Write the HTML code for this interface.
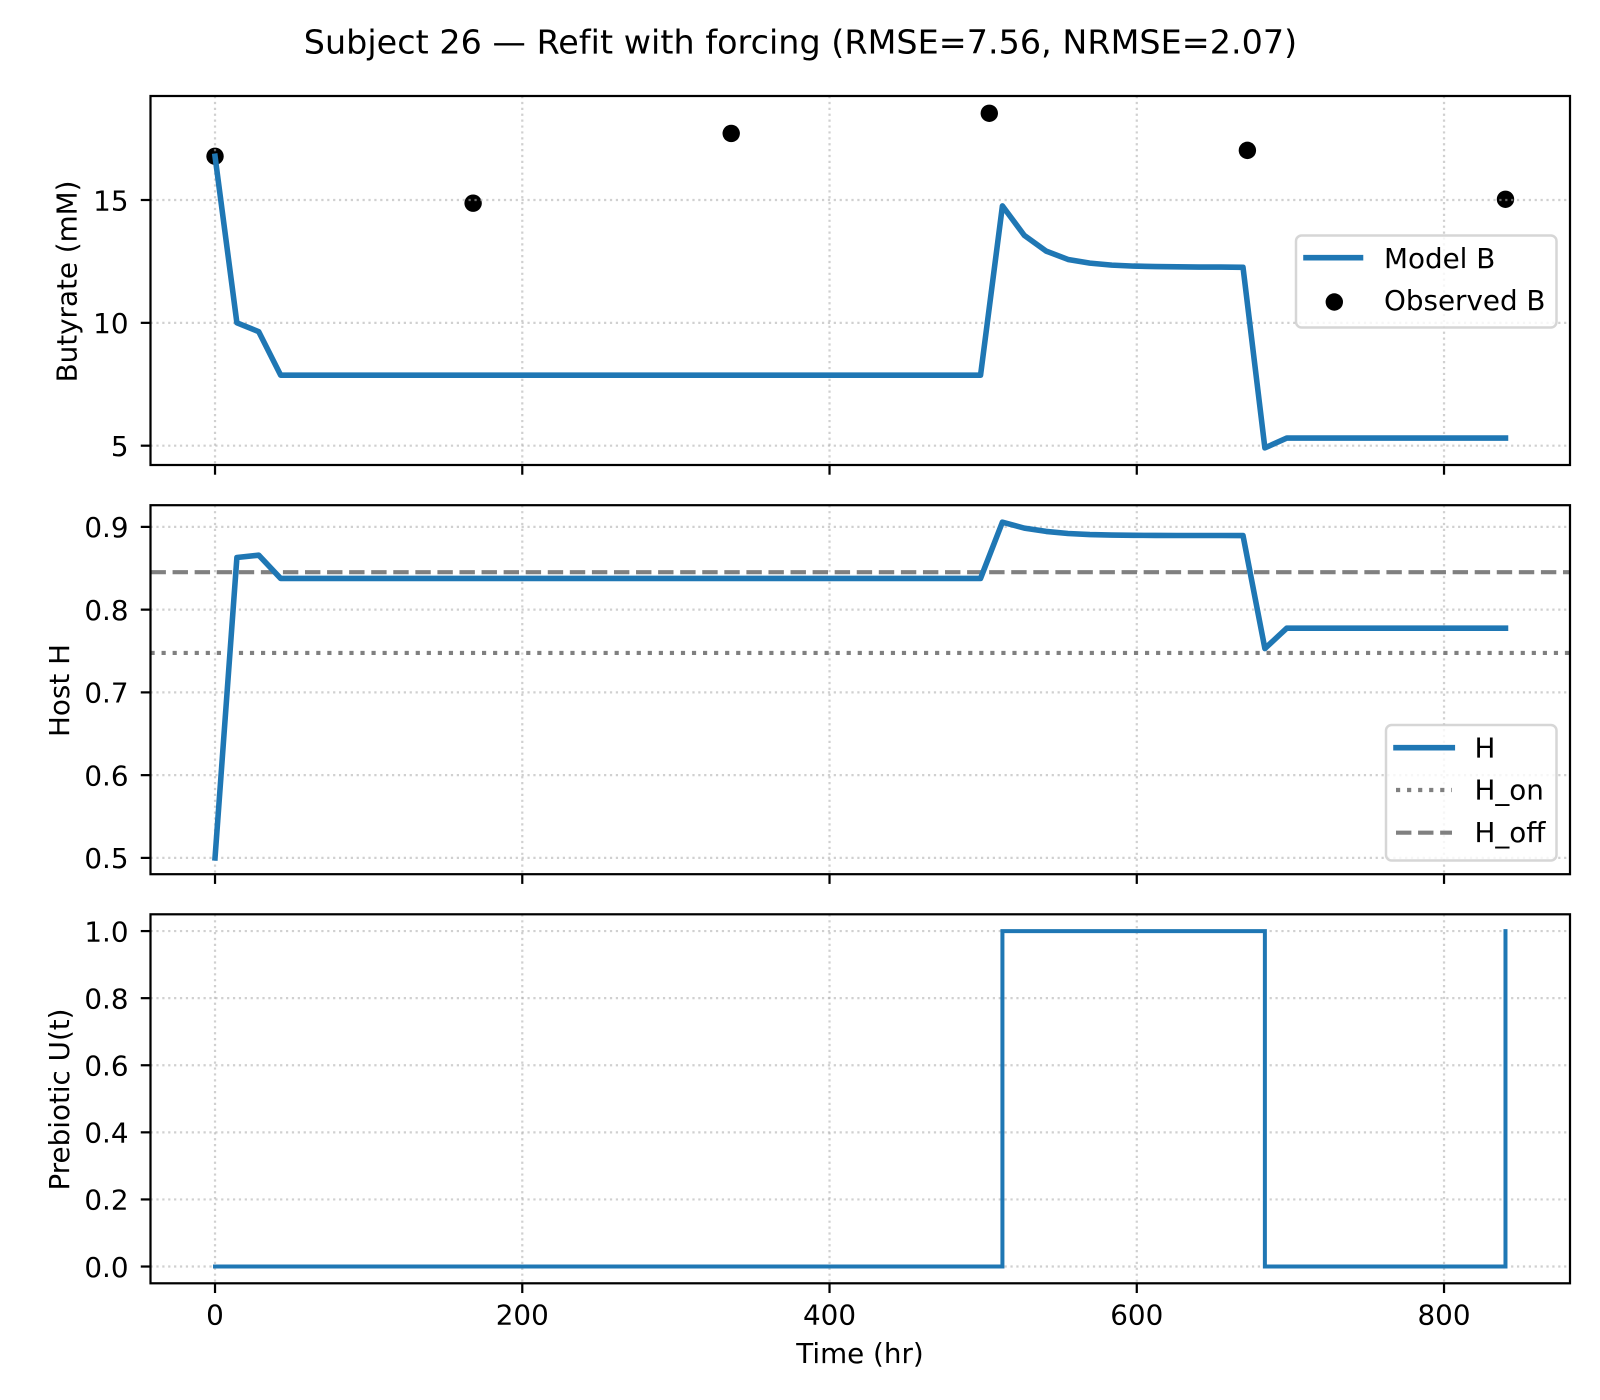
<!DOCTYPE html>
<html lang="en">
<head>
<meta charset="utf-8">
<title>Subject 26 — Refit with forcing</title>
<style>
html,body{margin:0;padding:0;background:#fff;}
svg{display:block;}
text{font-family:"DejaVu Sans","Liberation Sans",sans-serif;font-size:27.78px;fill:#000;}
</style>
</head>
<body>
<svg id="chart" xmlns="http://www.w3.org/2000/svg" width="1600" height="1400" viewBox="0 0 1600 1400">
  <rect x="0" y="0" width="1600" height="1400" fill="#fff"/>
  <text x="800.5" y="53.6" text-anchor="middle" style="font-size:33.33px;letter-spacing:0.055px">Subject 26 — Refit with forcing (RMSE=7.56, NRMSE=2.07)</text>
  <g id="panel-b"></g>
  <g id="panel-h"></g>
  <g id="panel-u"></g>
  <text transform="translate(76.5,281.5) rotate(-90)" text-anchor="middle">Butyrate (mM)</text>
  <text transform="translate(69,690.5) rotate(-90)" text-anchor="middle">Host H</text>
  <text transform="translate(69,1099.5) rotate(-90)" text-anchor="middle">Prebiotic U(t)</text>
  <text x="860" y="1363" text-anchor="middle">Time (hr)</text>

  <g>
    <rect x="1296" y="235.5" width="260.5" height="92" rx="5.6" ry="5.6" fill="#fff" fill-opacity="0.8" stroke="#cccccc" stroke-opacity="0.8" stroke-width="2.5"/>
    <line x1="1306" x2="1360.5" y1="257.7" y2="257.7" stroke="#1f77b4" stroke-width="5.56" stroke-linecap="square"/>
    <text x="1384" y="268">Model B</text>
    <circle cx="1334.3" cy="302" r="8.7" fill="#000"/>
    <text x="1384" y="310">Observed B</text>
  </g>
  <g>
    <rect x="1386" y="725" width="170.5" height="135.5" rx="5.6" ry="5.6" fill="#fff" fill-opacity="0.8" stroke="#cccccc" stroke-opacity="0.8" stroke-width="2.5"/>
    <line x1="1396" x2="1452.3" y1="747.7" y2="747.7" stroke="#1f77b4" stroke-width="5.56" stroke-linecap="square"/>
    <text x="1474.5" y="757.5">H</text>
    <line x1="1396" x2="1452" y1="790" y2="790" stroke="#808080" stroke-width="4.17" stroke-dasharray="4.17 6.88"/>
    <text x="1474.5" y="799.5">H_on</text>
    <line x1="1396" x2="1452" y1="832.7" y2="832.7" stroke="#808080" stroke-width="4.17" stroke-dasharray="15.4 6.67"/>
    <text x="1474.5" y="842">H_off</text>
  </g>
</svg>
<script>
// ---- chart data ----
const timeHours = [0,14.24,28.47,42.71,56.95,71.19,85.42,99.66,113.9,128.14,142.37,156.61,170.85,185.08,199.32,213.56,227.8,242.03,256.27,270.51,284.75,298.98,313.22,327.46,341.69,355.93,370.17,384.41,398.64,412.88,427.12,441.36,455.59,469.83,484.07,498.31,512.54,526.78,541.02,555.25,569.49,583.73,597.97,612.2,626.44,640.68,654.92,669.15,683.39,697.63,711.86,726.1,740.34,754.58,768.81,783.05,797.29,811.53,825.76,840];
const modelB = [16.78,10.0,9.64,7.87,7.87,7.87,7.87,7.87,7.87,7.87,7.87,7.87,7.87,7.87,7.87,7.87,7.87,7.87,7.87,7.87,7.87,7.87,7.87,7.87,7.87,7.87,7.87,7.87,7.87,7.87,7.87,7.87,7.87,7.87,7.87,7.87,14.76,13.56,12.92,12.58,12.43,12.35,12.31,12.29,12.28,12.27,12.27,12.26,4.91,5.31,5.31,5.31,5.31,5.31,5.31,5.31,5.31,5.31,5.31,5.31];
const observedTimes = [0,168,336,504,672,840];
const observedB = [16.78,14.87,17.71,18.53,17.02,15.03];
const hostH = [0.5,0.863,0.8658,0.8377,0.8377,0.8377,0.8377,0.8377,0.8377,0.8377,0.8377,0.8377,0.8377,0.8377,0.8377,0.8377,0.8377,0.8377,0.8377,0.8377,0.8377,0.8377,0.8377,0.8377,0.8377,0.8377,0.8377,0.8377,0.8377,0.8377,0.8377,0.8377,0.8377,0.8377,0.8377,0.8377,0.9057,0.8985,0.8945,0.892,0.8907,0.8901,0.8898,0.8897,0.8896,0.8896,0.8896,0.8895,0.753,0.7776,0.7776,0.7776,0.7776,0.7776,0.7776,0.7776,0.7776,0.7776,0.7776,0.7776];
const hOnThreshold = [0.7477];
const hOffThreshold = [0.8453];
const prebioticU = [0,0,0,0,0,0,0,0,0,0,0,0,0,0,0,0,0,0,0,0,0,0,0,0,0,0,0,0,0,0,0,0,0,0,0,0,1,1,1,1,1,1,1,1,1,1,1,1,0,0,0,0,0,0,0,0,0,0,0,1];
const xTicks = [0,200,400,600,800];
const bTicks = [5,10,15];
const bTickLabels = ["5","10","15"];
const hTicks = [0.5,0.6,0.7,0.8,0.9];
const hTickLabels = ["0.5","0.6","0.7","0.8","0.9"];
const uTicks = [0,0.2,0.4,0.6,0.8,1];
const uTickLabels = ["0.0","0.2","0.4","0.6","0.8","1.0"];
const xDomain = [-42, 882];
const bDomain = [4.214, 19.233];
const hDomain = [0.4803, 0.9262];
const uDomain = [-0.05, 1.05];

// ---- layout ----
const NS = 'http://www.w3.org/2000/svg';
const LEFT = 150.5, RIGHT = 1570;
const BLUE = '#1f77b4';

function make(parent, tag, attrs) {
  const el = document.createElementNS(NS, tag);
  for (const k in attrs) el.setAttribute(k, attrs[k]);
  parent.appendChild(el);
  return el;
}
function xScale(v) {
  return LEFT + (v - xDomain[0]) / (xDomain[1] - xDomain[0]) * (RIGHT - LEFT);
}
function yScaleFor(domain, top, bottom) {
  return function (v) {
    return bottom - (v - domain[0]) / (domain[1] - domain[0]) * (bottom - top);
  };
}
function pointsFrom(xs, ys, yScale) {
  return xs.map(function (t, i) {
    return xScale(t).toFixed(2) + ',' + yScale(ys[i]).toFixed(2);
  }).join(' ');
}
function stepPointsFrom(xs, ys, yScale) {
  const pts = [];
  xs.forEach(function (t, i) {
    if (i > 0) pts.push(xScale(t).toFixed(2) + ',' + yScale(ys[i - 1]).toFixed(2));
    pts.push(xScale(t).toFixed(2) + ',' + yScale(ys[i]).toFixed(2));
  });
  return pts.join(' ');
}
function drawGrid(parent, ticks, yScale, top, bottom) {
  xTicks.forEach(function (t) {
    const g = make(parent, 'line', {x1: xScale(t), x2: xScale(t), y1: top, y2: bottom, stroke: '#b0b0b0', 'stroke-opacity': 0.6, 'stroke-width': 2.22, 'stroke-dasharray': '2.22 3.67'});
    
    
  });
  ticks.forEach(function (v) {
    const g = make(parent, 'line', {x1: LEFT, x2: RIGHT, y1: yScale(v), y2: yScale(v), stroke: '#b0b0b0', 'stroke-opacity': 0.6, 'stroke-width': 2.22, 'stroke-dasharray': '2.22 3.67'});
    
    
  });
}
function drawFrame(parent, ticks, labels, yScale, top, bottom, showXLabels) {
  const frame = make(parent, 'rect', {x: LEFT, y: top, width: RIGHT - LEFT, height: bottom - top, fill: 'none', stroke: '#000', 'stroke-width': 2.22});
  
  
  ticks.forEach(function (v, i) {
    const m = make(parent, 'line', {x1: LEFT - 9.72, x2: LEFT, y1: yScale(v), y2: yScale(v), stroke: '#000', 'stroke-width': 2.22});
    
    
    const l = make(parent, 'text', {x: 128.5, y: yScale(v) + 10.3, 'text-anchor': 'end'});
    l.textContent = labels[i];
    
    
  });
  xTicks.forEach(function (t) {
    const m = make(parent, 'line', {x1: xScale(t), x2: xScale(t), y1: bottom, y2: bottom + 9.72, stroke: '#000', 'stroke-width': 2.22});
    
    
    if (showXLabels) {
      const l = make(parent, 'text', {x: xScale(t), y: bottom + 41, 'text-anchor': 'middle'});
      l.textContent = String(t);
      
      
    }
  });
}

// ---- butyrate panel ----
(function () {
  const top = 96, bottom = 465;
  const y = yScaleFor(bDomain, top, bottom);
  const p = document.getElementById('panel-b');
  observedTimes.forEach(function (t, i) {
    const c = make(p, 'circle', {cx: xScale(t), cy: y(observedB[i]), r: 8.7, fill: '#000'});
    
    
  });
  drawGrid(p, bTicks, y, top, bottom);
  const line = make(p, 'polyline', {points: pointsFrom(timeHours, modelB, y), fill: 'none', stroke: BLUE, 'stroke-width': 5.56, 'stroke-linecap': 'square', 'stroke-linejoin': 'round'});
  
  
  drawFrame(p, bTicks, bTickLabels, y, top, bottom, false);
})();

// ---- host H panel ----
(function () {
  const top = 505.2, bottom = 874.2;
  const y = yScaleFor(hDomain, top, bottom);
  const p = document.getElementById('panel-h');
  drawGrid(p, hTicks, y, top, bottom);
  const on = make(p, 'line', {x1: LEFT, x2: RIGHT, y1: y(hOnThreshold[0]), y2: y(hOnThreshold[0]), stroke: '#808080', 'stroke-width': 4.17, 'stroke-dasharray': '4.17 6.88'});
  
  
  const off = make(p, 'line', {x1: LEFT, x2: RIGHT, y1: y(hOffThreshold[0]), y2: y(hOffThreshold[0]), stroke: '#808080', 'stroke-width': 4.17, 'stroke-dasharray': '15.4 6.67'});
  
  
  const line = make(p, 'polyline', {points: pointsFrom(timeHours, hostH, y), fill: 'none', stroke: BLUE, 'stroke-width': 5.56, 'stroke-linecap': 'square', 'stroke-linejoin': 'round'});
  
  
  drawFrame(p, hTicks, hTickLabels, y, top, bottom, false);
})();

// ---- prebiotic panel ----
(function () {
  const top = 914.3, bottom = 1283.3;
  const y = yScaleFor(uDomain, top, bottom);
  const p = document.getElementById('panel-u');
  drawGrid(p, uTicks, y, top, bottom);
  const line = make(p, 'polyline', {points: stepPointsFrom(timeHours, prebioticU, y), fill: 'none', stroke: BLUE, 'stroke-width': 4, 'stroke-linecap': 'square', 'stroke-linejoin': 'miter'});
  
  
  drawFrame(p, uTicks, uTickLabels, y, top, bottom, true);
})();
</script>
</body>
</html>
